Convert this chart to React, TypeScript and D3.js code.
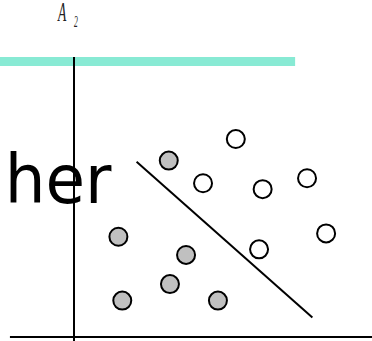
import React from "react";
import * as d3 from "d3";

const W = 372;
const H = 341;

// data units
const classA = [
  { x: 3.18, y: 6.3 },
  { x: 1.49, y: 3.58 },
  { x: 3.76, y: 2.93 },
  { x: 3.22, y: 1.89 },
  { x: 1.62, y: 1.3 },
  { x: 4.83, y: 1.3 },
];
const classB = [
  { x: 5.43, y: 7.07 },
  { x: 4.33, y: 5.49 },
  { x: 6.33, y: 5.28 },
  { x: 7.82, y: 5.67 },
  { x: 8.46, y: 3.7 },
  { x: 6.21, y: 3.13 },
];
const boundary = [
  { x: 2.1, y: 6.26 },
  { x: 8.0, y: 0.7 },
];
const band = [
  { x: -2.5, y: 9.84 },
  { x: 7.42, y: 9.84 },
];
const xAxisExtent = [-2.15, 10];
const yAxisExtent = [-0.15, 10];

export default function App() {
  const x = d3.scaleLinear().domain([0, 10]).range([74, 372]);
  const y = d3.scaleLinear().domain([0, 10]).range([337, 57]);
  const line = d3
    .line<{ x: number; y: number }>()
    .x((d) => x(d.x))
    .y((d) => y(d.y));
  return (
    <svg
      width={W}
      height={H}
      style={{ position: "absolute", left: 0, top: 0, background: "#fff" }}
    >
      <path d={line(band) || ""} stroke="#88ead4" strokeWidth={9} fill="none" />
      <g transform="translate(58,21) scale(0.5,1)">
        <text fontFamily="Liberation Serif" fontStyle="italic" fontSize={27} fill="#222">
          A
        </text>
      </g>
      <g transform="translate(74,27) scale(0.45,1)">
        <text fontFamily="Liberation Serif" fontStyle="italic" fontSize={17} fill="#222">
          2
        </text>
      </g>
      <g transform="translate(4.7,203) scale(0.96,1)">
        <text fontFamily="DejaVu Sans" fontSize={67} fill="#000">
          her
        </text>
      </g>
      <line
        x1={x(0)}
        x2={x(0)}
        y1={y(yAxisExtent[1])}
        y2={y(yAxisExtent[0])}
        stroke="#000"
        strokeWidth={2}
      />
      <line
        x1={x(xAxisExtent[0])}
        x2={x(xAxisExtent[1])}
        y1={y(0)}
        y2={y(0)}
        stroke="#000"
        strokeWidth={2}
      />
      <path d={line(boundary) || ""} stroke="#000" strokeWidth={2} fill="none" />
      {classA.map((d, i) => (
        <circle key={"a" + i} cx={x(d.x)} cy={y(d.y)} r={9} fill="#c0c0c0" stroke="#000" strokeWidth={2} />
      ))}
      {classB.map((d, i) => (
        <circle key={"b" + i} cx={x(d.x)} cy={y(d.y)} r={9} fill="#fff" stroke="#000" strokeWidth={2} />
      ))}
    </svg>
  );
}
